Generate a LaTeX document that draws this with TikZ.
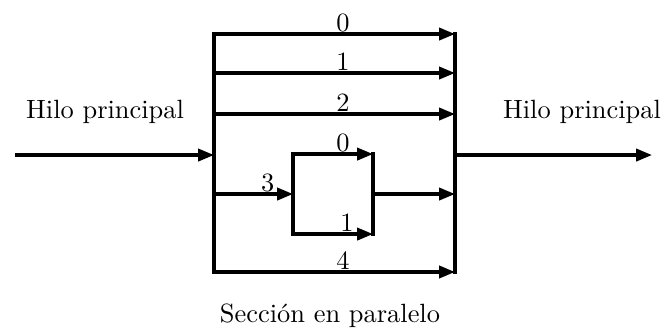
\documentclass[tikz,border=0pt]{standalone}
\usetikzlibrary{arrows.meta}
\begin{document}
\begin{tikzpicture}[
    flow/.style={line width=1.2pt, -{Triangle[length=6pt,width=4.6pt]}},
    bar/.style={line width=1.2pt, line cap=rect},
    tag/.style={anchor=base, inner sep=0pt, yshift=0.8pt}
  ]
  \useasboundingbox (0,0) rectangle (8.853,4.367);

  % Fork and join of the parallel section
  \coordinate (forktop) at (2.849,3.914);
  \coordinate (forkbot) at (2.849,0.746);
  \coordinate (jointop) at (6.057,3.914);
  \coordinate (joinbot) at (6.057,0.746);
  \draw[bar] (forktop) -- (forkbot);
  \draw[bar] (jointop) -- (joinbot);

  % Main thread coming in and going out
  \coordinate (in) at (0.20,2.303);
  \coordinate (out) at (8.680,2.303);
  \draw[flow] (in) -- (in -| forktop);
  \draw[flow] (in -| jointop) -- (out);
  \node (hiloin) at (1.398,2.876) {Hilo principal};
  \node (hiloout) at (7.748,2.876) {Hilo principal};

  % Threads 0, 1, 2 and 4
  \foreach \n/\y in {0/3.914, 1/3.395, 2/2.849, 4/0.746} {
    \coordinate (s\n) at (2.849,\y);
    \coordinate (e\n) at (6.057,\y);
    \draw[flow] (s\n) -- node[tag, pos=0.535] {\n} (e\n);
  }

  % Thread 3 opens a nested section
  \coordinate (s3) at (2.849,1.784);
  \coordinate (e3) at (6.057,1.784);
  \coordinate (nforktop) at (3.901,2.316);
  \coordinate (nforkbot) at (3.901,1.251);
  \coordinate (njointop) at (4.966,2.316);
  \coordinate (njoinbot) at (4.966,1.251);
  \draw[flow] (s3) -- node[tag, pos=0.68] {3} (s3 -| nforktop);
  \draw[bar] (nforktop) -- (nforkbot);
  \draw[bar] (njointop) -- (njoinbot);
  \draw[flow] (nforktop) -- node[tag, pos=0.625] {0} (njointop);
  \draw[flow] (nforkbot) -- node[tag, pos=0.675] {1} (njoinbot);
  \draw[flow] (e3 -| njointop) -- (e3);

  \node (seccion) at (4.393,0.16) {Secci\'on en paralelo};
\end{tikzpicture}
\end{document}
